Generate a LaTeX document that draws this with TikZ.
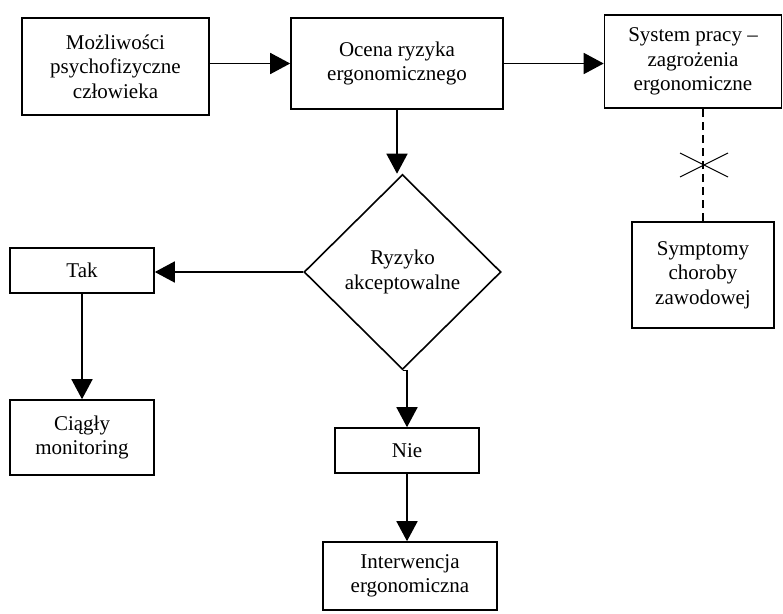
\documentclass[tikz,border=0pt]{standalone}
\usepackage{fontspec}
\setmainfont{Liberation Serif}
\usetikzlibrary{shapes.geometric, arrows.meta, positioning, calc}
\tikzstyle{process} = [rectangle, inner sep=0pt, text centered, align=center, draw=black, line width=1.6pt]
\tikzstyle{decision} = [diamond, inner sep=0pt, text centered, align=center, draw=black, line width=1.6pt]
\tikzstyle{arrow} = [line width=1.6pt, -{Triangle[length=20pt, width=21pt]}]
\tikzstyle{link} = [line width=1.6pt, dash pattern=on 8pt off 5pt]

\begin{document}
\begin{tikzpicture}[x=1pt, y=-1pt, font=\fontsize{21}{24.5}\selectfont]
				\useasboundingbox (0,0) rectangle (783,613);
				\node (mozl) [process, minimum width=187pt, minimum height=97pt] at (115.5,66.5) {Możliwości\\psychofizyczne\\człowieka};
				\node (ocena) [process, minimum width=212pt, minimum height=91pt] at (397,63.5) {Ocena ryzyka\\ergonomicznego};
				\node (system) [process, minimum width=177pt, minimum height=93pt] at (693,61.5) {System pracy –\\zagrożenia\\ergonomiczne};
				\node (dec) [decision, minimum width=197pt, minimum height=195pt] at (402.5,272) {Ryzyko\\akceptowalne};
				\node (sympt) [process, minimum width=142pt, minimum height=106pt] at (703,275) {Symptomy\\choroby\\zawodowej};
				\node (tak) [process, minimum width=144pt, minimum height=45pt] at (82,270.5) {Tak};
				\node (ciagly) [process, minimum width=144pt, minimum height=75pt] at (82,437.5) {Ciągły\\monitoring};
				\node (nie) [process, minimum width=144pt, minimum height=45pt] at (407,450.5) {Nie};
				\node (interw) [process, minimum width=174pt, minimum height=68pt] at (410,576) {Interwencja\\ergonomiczna};
				\coordinate (cut) at (704,165);
				
				\draw[arrow] (mozl.east |- ocena.west) -- (ocena.west);
				\draw[arrow] (ocena.east) -- (ocena.east -| system.west);
				\draw[arrow] (ocena.south) -- (ocena.south |- dec.north);
				\draw[arrow] (dec.west) -- (dec.west -| tak.east);
				\draw[arrow] (tak.south) -- (tak.south |- ciagly.north);
				\draw[arrow] (dec.south) -- (dec.south -| nie.north) -- (nie.north);
				\draw[arrow] (nie.south) -- (nie.south |- interw.north);
				\draw[link] (sympt.north) -- (sympt.north |- system.south);
				\draw[line width=1.1pt] ($(cut) + (-24,-12)$) -- ($(cut) + (24,12)$);
				\draw[line width=1.1pt] ($(cut) + (-24,12)$) -- ($(cut) + (24,-12)$);
			\end{tikzpicture}
\end{document}
